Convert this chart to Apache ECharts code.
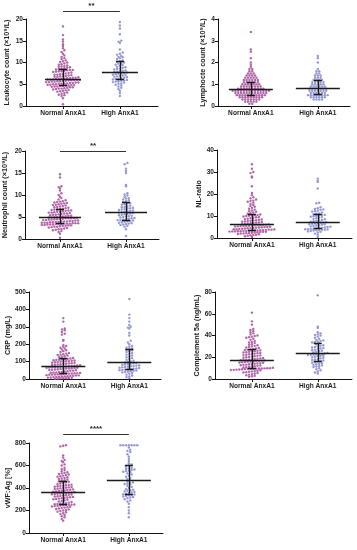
<!DOCTYPE html>
<html><head><meta charset="utf-8">
<script src="https://cdn.jsdelivr.net/npm/echarts@6/dist/echarts.min.js"></script>
<style>html,body{margin:0;padding:0;background:#fff}#c{width:357px;height:550px}</style>
</head><body><div id="c"></div>
<script>
const categories = ['Normal AnxA1', 'High AnxA1'];

const leukoNormal = [0.4,1.8,2.3,2.5,2.6,2.8,3.0,3.1,3.3,3.4,3.5,3.6,3.7,3.8,3.9,4.0,4.0,4.1,4.2,4.3,4.3,4.4,4.5,4.5,4.6,4.6,4.7,4.7,4.8,4.8,
4.9,4.9,5.0,5.0,5.1,5.1,5.2,5.2,5.3,5.3,5.4,5.4,5.5,5.5,5.6,5.6,5.7,5.7,5.8,5.8,5.9,5.9,6.0,6.0,6.0,6.1,6.1,6.1,6.2,6.2,
6.3,6.3,6.4,6.4,6.5,6.5,6.6,6.7,6.7,6.8,6.9,6.9,7.0,7.1,7.2,7.2,7.3,7.4,7.5,7.6,7.7,7.8,7.9,8.0,8.0,8.1,8.2,8.3,8.3,8.4,
8.5,8.6,8.7,8.8,8.9,9.0,9.1,9.2,9.3,9.5,9.6,9.8,10.0,10.1,10.3,10.5,10.8,11.0,11.3,11.6,12.0,12.4,12.8,13.3,13.8,14.2,14.8,15.3,16.3,18.3];
const leukoHigh = [2.3,3.0,3.5,3.9,4.2,4.5,4.7,4.9,5.1,5.2,5.4,5.5,5.6,5.7,5.8,5.9,6.0,
6.1,6.2,6.3,6.4,6.5,6.6,6.7,6.8,6.9,7.0,7.1,7.2,7.3,7.4,7.5,7.6,7.7,7.8,
7.9,8.0,8.1,8.2,8.4,8.5,8.6,8.8,8.9,9.0,9.2,9.4,9.5,9.7,9.8,10.0,10.1,
10.3,10.5,10.8,11.0,11.2,11.3,11.5,11.8,12.0,12.3,13.0,14.5,14.8,15.0,16.5,17.8,18.5,19.3];

const lymphNormal = [0.1,0.1,0.2,0.2,0.2,0.2,0.2,0.3,0.3,0.3,0.3,0.3,0.3,0.3,
0.4,0.4,0.4,0.4,0.4,0.4,0.4,0.4,0.4,0.5,0.5,0.5,0.5,0.5,0.5,0.5,0.5,0.5,0.5,0.5,
0.6,0.6,0.6,0.6,0.6,0.6,0.6,0.6,0.6,0.6,0.6,0.6,0.7,0.7,0.7,0.7,0.7,0.7,0.7,0.7,0.7,0.7,0.7,0.7,0.7,0.7,
0.8,0.8,0.8,0.8,0.8,0.8,0.8,0.8,0.8,0.8,0.9,0.9,0.9,0.9,0.9,0.9,0.9,0.9,1.0,1.0,1.0,1.0,1.0,1.0,1.0,
1.1,1.1,1.1,1.1,1.1,1.1,1.2,1.2,1.2,1.2,1.2,1.2,1.3,1.3,1.3,1.3,1.3,1.4,1.4,1.4,1.4,1.5,1.5,1.5,
1.6,1.6,1.7,1.7,1.8,1.9,2.0,2.2,2.5,2.6,3.4];
const lymphHigh = [0.3,0.3,0.3,0.3,0.4,0.4,0.4,0.4,0.4,0.4,0.5,0.5,0.5,0.5,0.5,0.5,0.5,0.5,
0.6,0.6,0.6,0.6,0.6,0.6,0.7,0.7,0.7,0.7,0.7,0.7,0.7,0.8,0.8,0.8,0.8,0.8,0.8,0.8,
0.9,0.9,0.9,0.9,0.9,0.9,1.0,1.0,1.0,1.0,1.0,1.1,1.1,1.1,1.1,1.1,1.2,1.2,1.2,1.2,
1.3,1.3,1.3,1.4,1.4,1.4,1.5,1.5,1.6,1.6,1.7,2.0,2.2,2.3];

const neutroNormal = [0.3,1.2,1.6,1.8,2.0,2.1,2.2,2.3,2.4,2.5,2.6,2.7,2.8,2.8,2.9,3.0,3.0,3.1,3.1,3.2,3.2,3.3,3.3,3.3,3.4,3.4,3.4,3.5,3.5,3.5,
3.6,3.6,3.6,3.7,3.7,3.7,3.8,3.8,3.9,3.9,4.0,4.0,4.0,4.1,4.1,4.2,4.2,4.3,4.3,4.4,4.4,4.5,4.5,4.6,4.6,4.7,4.7,4.7,4.8,4.8,
4.9,4.9,5.0,5.0,5.1,5.1,5.2,5.3,5.3,5.4,5.5,5.5,5.6,5.7,5.8,5.8,5.9,6.0,6.0,6.1,6.2,6.2,6.3,6.4,6.5,6.5,6.6,6.7,6.7,6.8,
6.9,7.0,7.1,7.2,7.3,7.4,7.5,7.6,7.7,7.8,7.9,8.0,8.1,8.2,8.3,8.4,8.5,8.6,8.8,9.0,9.3,9.6,10.0,10.4,11.0,11.5,11.8,12.0,14.0,14.7];
const neutroHigh = [0.7,2.2,2.8,3.0,3.2,3.3,3.4,3.5,3.6,3.7,3.8,3.9,4.0,4.1,4.2,4.3,4.3,
4.4,4.5,4.6,4.7,4.8,4.9,5.0,5.1,5.2,5.3,5.4,5.5,5.6,5.7,5.8,5.9,6.0,6.1,
6.2,6.3,6.4,6.5,6.6,6.7,6.8,6.9,7.0,7.1,7.2,7.3,7.4,7.6,7.8,7.9,8.1,
8.2,8.4,8.6,8.8,9.0,9.2,9.3,9.6,9.9,10.1,10.4,12.0,12.3,15.0,15.5,16.0,17.0,17.3];

const nlNormal = [0.5,0.8,1.0,1.2,1.4,1.5,1.7,1.8,2.0,2.1,2.2,2.3,2.4,2.5,2.6,2.7,2.8,2.8,2.9,3.0,3.0,3.1,3.1,3.2,3.2,3.3,3.3,3.4,3.4,3.5,
3.6,3.7,3.8,3.8,3.9,4.0,4.0,4.1,4.2,4.3,4.4,4.5,4.6,4.7,4.8,4.9,5.0,5.0,5.1,5.2,5.3,5.4,5.5,5.5,5.6,5.7,5.8,5.9,5.9,6.0,
6.1,6.2,6.3,6.4,6.6,6.7,6.8,7.0,7.1,7.3,7.4,7.5,7.7,7.8,8.0,8.1,8.3,8.4,8.6,8.8,9.0,9.2,9.4,9.6,9.8,10.0,10.1,10.2,10.4,10.5,
10.7,11.0,11.3,11.6,11.9,12.2,12.5,12.9,13.3,13.7,14.2,14.6,15.0,15.5,16.0,16.5,16.8,17.0,17.5,18.0,18.5,19.5,20.5,23.5,27.5,28.0,29.5,30.0,31.5,33.5];
const nlHigh = [0.5,1.5,2.0,2.5,2.8,3.0,3.2,3.4,3.5,3.6,3.7,3.8,3.9,4.0,4.0,4.1,4.2,
4.3,4.5,4.6,4.8,5.0,5.1,5.3,5.5,5.7,5.8,6.0,6.2,6.3,6.5,6.6,6.8,6.9,7.0,
7.2,7.4,7.6,7.8,8.0,8.2,8.5,8.7,9.0,9.2,9.5,9.7,9.9,10.0,10.2,10.4,10.5,
10.8,11.0,11.2,11.6,12.0,12.2,12.4,12.8,13.0,13.2,13.5,14.0,15.8,16.0,22.5,25.5,26.0,27.0];

const crpNormal = [1,2,3,4,5,6,7,8,9,11,12,13,14,15,16,18,19,20,21,22,24,25,26,27,28,29,30,31,32,33,
34,35,36,37,38,40,41,43,45,47,48,50,52,53,55,56,58,59,60,61,62,63,64,65,66,67,68,69,70,71,
72,73,75,76,78,79,81,82,84,85,87,88,90,91,93,94,96,97,99,100,102,103,105,106,108,109,111,112,114,115,
118,121,125,128,131,135,138,140,142,146,150,155,160,165,170,175,180,185,190,195,220,225,255,260,270,280,285,290,330,350];
const crpHigh = [5,10,15,20,25,30,35,38,40,42,45,47,49,51,52,54,55,
57,59,61,63,65,67,69,71,73,75,77,79,81,83,85,87,90,92,
95,98,101,105,110,115,120,125,130,135,140,145,150,155,160,165,168,
172,175,180,185,190,200,210,220,250,265,290,295,300,310,330,350,370,460];

const c5aNormal = [2,2.5,3,3.5,4,4.5,5,5.5,6,6.3,6.6,7,7.3,7.6,8,8.2,8.4,8.6,8.8,9,9.1,9.2,9.3,9.4,9.5,9.6,9.7,9.8,9.9,10,
10.3,10.6,10.9,11.2,11.5,11.8,12.1,12.4,12.7,13,13.2,13.5,13.8,14,14.3,14.6,14.9,15.1,15.3,15.6,15.8,16,16.2,16.5,16.7,16.9,17.1,17.3,17.4,17.5,
17.8,18.1,18.4,18.7,19,19.3,19.6,20,20.3,20.7,21,21.3,21.7,22,22.3,22.7,23,23.3,23.7,24,24.3,24.7,25,25.3,25.6,26,26.3,26.6,26.8,27,
27.5,28,28.5,29,29.5,30,30.5,31,31.5,32,33,33.5,34,35,36,37,38,38.5,39,39.5,40,41,42,43,44,45,46,50,53,61];
const c5aHigh = [5,6,7,8,9,10,11,11.5,12,12.5,13,13.5,14,14.5,15,15.5,16,
16.5,17,17.5,18,18.5,19,19.5,20,20.5,21,21.3,21.6,22,22.2,22.4,22.6,22.8,23,
23.5,24,24.5,25,25.5,26,26.5,27,27.5,28,28.5,29,29.5,30,30.5,31,32,
33,33.5,34,34.5,35,35.5,36,37,38,39,40,40.5,41,42,43,47,48,77];

const vwfNormal = [110,125,140,150,160,168,176,184,190,196,200,205,210,214,218,222,226,230,233,236,239,242,244,246,248,250,252,254,256,258,
260,263,266,270,275,280,285,290,295,300,303,306,309,312,315,318,321,324,327,330,333,336,339,342,345,347,349,351,353,355,
358,361,364,367,370,373,376,379,382,385,388,391,394,397,400,403,406,409,412,415,418,421,424,427,430,435,440,445,450,455,
460,465,470,475,480,485,490,495,500,505,510,515,520,525,530,535,540,550,560,570,580,600,610,630,640,650,670,690,770,775,780];
const vwfHigh = [140,175,200,230,260,280,290,300,310,315,320,325,330,335,338,342,345,
350,355,360,365,370,375,380,385,390,400,410,420,430,435,440,445,450,460,
470,480,490,500,510,520,530,540,545,550,555,560,565,570,575,580,590,
600,610,620,640,660,680,700,720,730,740,760,780,780,780,780,780,780,780];

const yNames = ['Leukocyte count (×10⁹/L)','Lymphocte count (×10⁹/L)','Neutrophil count (×10⁹/L)','NL-ratio','CRP (mg/L)','Complement 5a (ng/mL)','vWF:Ag [%]'];
const yMaxes = [20,4,20,40,500,80,800];
const yIntervals = [5,1,5,10,100,20,200];
const groupNormal = [leukoNormal,lymphNormal,neutroNormal,nlNormal,crpNormal,c5aNormal,vwfNormal];
const groupHigh = [leukoHigh,lymphHigh,neutroHigh,nlHigh,crpHigh,c5aHigh,vwfHigh];
// significance: panel index, label, y value of bar
const sigPanels = [0,2,6];
const sigLabels = ['**','**','****'];
const sigLevels = [21.8,20,880];

// layout (not data)
const layout = [
  {grid:{left:26,top:19,width:132,height:87}, xMin:-0.65, xMax:1.67, nameGap:15, bin:2.5, medHalf:18},
  {grid:{left:218,top:19,width:132,height:87}, xMin:-0.49, xMax:1.48, nameGap:11, bin:2, medHalf:22},
  {grid:{left:25,top:151,width:134,height:88}, xMin:-0.53, xMax:1.5, nameGap:16, bin:2.5, medHalf:21},
  {grid:{left:217,top:150,width:135,height:88}, xMin:-0.53, xMax:1.52, nameGap:13, bin:2.5, medHalf:22},
  {grid:{left:29,top:292,width:132,height:87}, xMin:-0.52, xMax:1.48, nameGap:17, bin:2.5, medHalf:22},
  {grid:{left:215,top:292,width:137,height:87}, xMin:-0.56, xMax:1.52, nameGap:11, bin:2.5, medHalf:22},
  {grid:{left:29,top:443,width:134,height:90}, xMin:-0.52, xMax:1.52, nameGap:15, bin:2.5, medHalf:22}
];

const FONT = "'Liberation Sans', Arial, sans-serif";
const TXT = '#1e1e1e';
const colors = ['#a8559f', '#8c8ecf'];

function swarm(vals, cat, L, yMax) {
  const pxPerY = L.grid.height / yMax;
  const pxPerX = L.grid.width / (L.xMax - L.xMin);
  const pitch = 2.8;
  const groups = new Map();
  [...vals].sort((a,b)=>a-b).forEach(v => {
    const k = Math.floor(v * pxPerY / L.bin + 0.5);
    if (!groups.has(k)) groups.set(k, []);
    groups.get(k).push(v);
  });
  const pts = [];
  groups.forEach(g => {
    const n = g.length;
    g.forEach((v,i) => pts.push([cat + (i - (n-1)/2) * pitch / pxPerX, v]));
  });
  return pts;
}
function quant(vals, p) {
  const s = [...vals].sort((a,b)=>a-b);
  const n = s.length;
  const r = (n + 1) * p - 1;
  const lo = Math.max(0, Math.floor(r)), hi = Math.min(n-1, Math.ceil(r));
  return s[lo] + (s[hi] - s[lo]) * (r - lo);
}

const grids = [], xAxes = [], yAxes = [], series = [];
layout.forEach((L, i) => {
  grids.push(L.grid);
  xAxes.push({
    gridIndex: i, type: 'value', min: L.xMin, max: L.xMax,
    splitLine: {show: false},
    axisLine: {show: true, onZero: false, lineStyle: {color: '#111', width: 1}},
    axisTick: {show: true, customValues: [0,1], length: 3, lineStyle: {color: '#111'}},
    axisLabel: {show: true, customValues: [0,1], formatter: v => categories[Math.round(v)],
      fontFamily: FONT, fontWeight: 'bold', fontSize: 6.6, color: TXT, margin: 4}
  });
  yAxes.push({
    gridIndex: i, type: 'value', min: 0, max: yMaxes[i], interval: yIntervals[i],
    name: yNames[i], nameLocation: 'middle', nameGap: L.nameGap, nameRotate: 90,
    nameTextStyle: {fontFamily: FONT, fontWeight: 'bold', fontSize: 7.2, color: TXT},
    splitLine: {show: false},
    axisLine: {show: true, onZero: false, lineStyle: {color: '#111', width: 1}},
    axisTick: {show: true, length: 3, lineStyle: {color: '#111'}},
    axisLabel: {fontFamily: FONT, fontWeight: 'bold', fontSize: 6.6, color: TXT, margin: 3}
  });
  [groupNormal[i], groupHigh[i]].forEach((vals, c) => {
    series.push({
      type: 'scatter', xAxisIndex: i, yAxisIndex: i, symbol: 'circle', symbolSize: 2.4,
      itemStyle: {color: colors[c], opacity: 0.9}, silent: true, z: 2,
      data: swarm(vals, c, L, yMaxes[i])
    });
  });
  const pxPerX = L.grid.width / (L.xMax - L.xMin);
  const hw = L.medHalf / pxPerX, cw = 4 / pxPerX;
  const segs = [];
  [groupNormal[i], groupHigh[i]].forEach((vals, c) => {
    const med = quant(vals, 0.5), q1 = quant(vals, 0.25), q3 = quant(vals, 0.75);
    segs.push({coords: [[c-hw, med],[c+hw, med]]});
    segs.push({coords: [[c, q1],[c, q3]]});
    segs.push({coords: [[c-cw, q1],[c+cw, q1]]});
    segs.push({coords: [[c-cw, q3],[c+cw, q3]]});
  });
  series.push({
    type: 'lines', coordinateSystem: 'cartesian2d', xAxisIndex: i, yAxisIndex: i,
    lineStyle: {color: '#1a1a1a', width: 1.3, opacity: 1}, z: 5, silent: true, data: segs
  });
});
sigPanels.forEach((p, k) => {
  series.push({
    type: 'lines', coordinateSystem: 'cartesian2d', xAxisIndex: p, yAxisIndex: p, clip: false,
    lineStyle: {color: '#333', width: 1.2, opacity: 1}, z: 5, silent: true,
    label: {show: true, position: 'middle', formatter: sigLabels[k], fontFamily: FONT,
      fontWeight: 'bold', fontSize: 8, color: TXT, distance: 1},
    data: [{coords: [[0, sigLevels[k]], [1, sigLevels[k]]]}]
  });
});

const chart = echarts.init(document.getElementById('c'), null, {renderer: 'canvas'});
chart.setOption({animation: false, backgroundColor: '#fff', grid: grids, xAxis: xAxes, yAxis: yAxes, series: series});
</script></body></html>
